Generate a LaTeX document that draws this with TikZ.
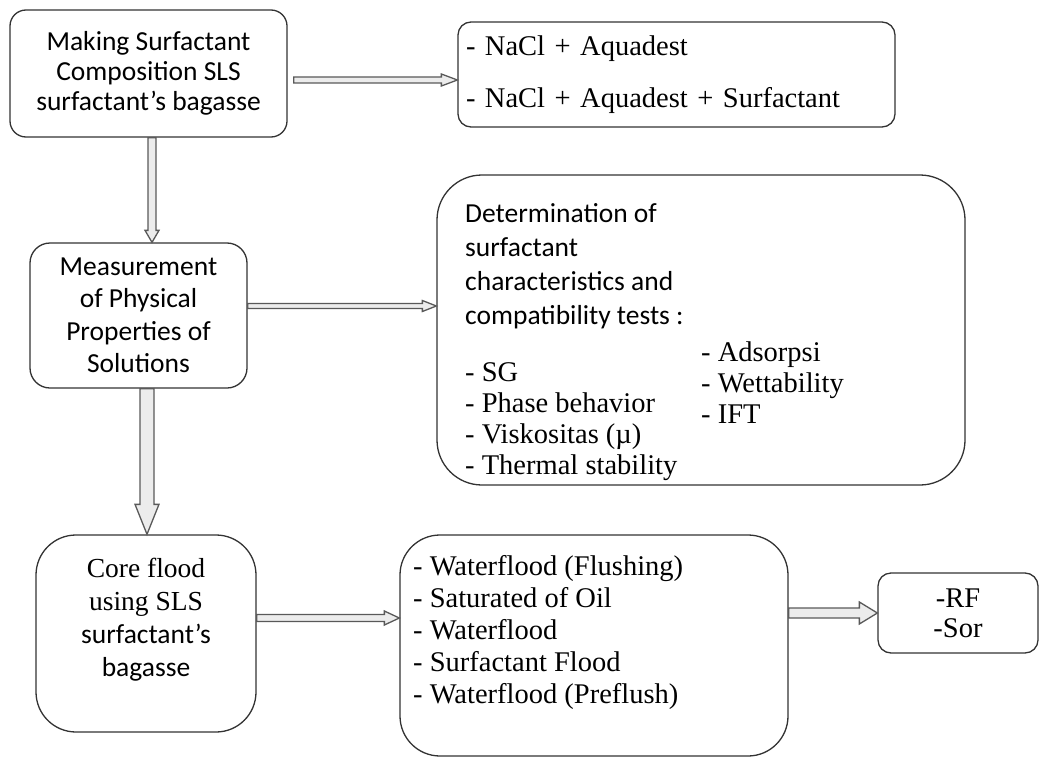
\documentclass[tikz,border=0pt]{standalone}
\usepackage{fontspec}
\setmainfont{Liberation Serif}
\newfontfamily\calibri{Carlito}
\usetikzlibrary{calc,positioning}

\begin{document}
\begin{tikzpicture}[
    x=1pt, y=-1pt,
    %---- boxes and texts ----
    box/.style = {draw=black!80, line width=1.3pt, fill=white, inner sep=0pt},
    calibritext/.style = {font=\calibri\fontsize{27.5}{30}\selectfont, align=center},
    listtext/.style = {font=\fontsize{28.5}{31}\selectfont, align=left, inner sep=0pt},
    %---- hollow block arrow: {half shaft}{half head}{head length} ----
    blockarrow/.style n args={3}{draw=black!65, line width=1.3pt, fill=gray!15, line join=miter,
        to path={($(\tikztotarget)!#3!(\tikztostart)$) coordinate (hb)
          ($(\tikztostart)!#1!90:(\tikztotarget)$) -- ($(hb)!#1!-90:(\tikztostart)$)
          -- ($(hb)!#2!-90:(\tikztostart)$) -- (\tikztotarget)
          -- ($(hb)!#2!90:(\tikztostart)$) -- ($(hb)!#1!90:(\tikztostart)$)
          -- ($(\tikztostart)!#1!-90:(\tikztotarget)$) -- cycle}},
]
\useasboundingbox (0,0) rectangle (1040,757);

%---- left column ----
\node (making)  [box, calibritext, rounded corners=16pt, minimum width=277pt, minimum height=127pt]
    at (148.5,73.5) {Making Surfactant\\Composition SLS\\surfactant’s bagasse};

\node (measure) [box, calibritext, font=\calibri\fontsize{27.5}{32.5}\selectfont,
    rounded corners=20pt, minimum width=217pt, minimum height=145pt]
    at (138.5,315.5) {Measurement\\of Physical\\Properties of\\Solutions};

\node (core)    [box, rounded corners=40pt, minimum width=220pt, minimum height=197pt] at (146,633.5) {};
\node (coretext) [calibritext, font=\calibri\fontsize{27.5}{33}\selectfont, anchor=north, inner sep=0pt]
    at (146,558) {{\rmfamily Core flood}\\{\rmfamily using SLS}\\surfactant’s\\bagasse};

%---- right column ----
\node (nacl)    [box, listtext, rounded corners=13pt, minimum width=437pt, minimum height=105pt,
    text width=421pt, inner xsep=8pt]
    at (676.5,74.5) {- NaCl + Aquadest\\[21pt]- NaCl + Aquadest + Surfactant};

\node (determ)  [box, rounded corners=45pt, minimum width=528pt, minimum height=310pt] at (701,330) {};
\node (determhead) [calibritext, font=\calibri\fontsize{27.5}{34}\selectfont, align=left,
    anchor=north west, inner sep=0pt]
    at (465,203) {Determination of\\surfactant\\characteristics and\\compatibility tests :};
\node (testsleft)  [listtext, anchor=north west] at (465,362)
    {- SG\\- Phase behavior\\- Viskositas (µ)\\- Thermal stability};
\node (testsright) [listtext, anchor=north west] at (701,342)
    {- Adsorpsi\\- Wettability\\- IFT};

\node (flood)   [box, rounded corners=40pt, minimum width=388pt, minimum height=221pt] at (594,645.5) {};
\node (floodsteps) [listtext, font=\fontsize{28.5}{32}\selectfont, anchor=north west] at (413,555)
    {- Waterflood (Flushing)\\- Saturated of Oil\\- Waterflood\\- Surfactant Flood\\- Waterflood (Preflush)};

\node (result)  [box, listtext, font=\fontsize{28.5}{30}\selectfont, align=center, rounded corners=13pt,
    minimum width=160pt, minimum height=80pt] at (958,613) {-RF\\-Sor};

%---- arrows ----
\foreach \a/\ax/\ay/\b/\bx/\by/\w/\h/\l in {
  making.east/6pt/-6.5pt/nacl.west/0pt/-5.5pt/3pt/6pt/16pt,
  making.south/3.5pt/0pt/measure.north/13.5pt/0pt/4pt/7pt/12pt,
  measure.east/0pt/9.5pt/determ.west/0pt/24pt/2.5pt/5.5pt/14pt,
  measure.south/8.5pt/0pt/core.north/1pt/0pt/7pt/12pt/30pt,
  core.east/0pt/15.5pt/flood.west/0pt/27.5pt/3.5pt/7pt/15pt,
  flood.east/0pt/32.5pt/result.west/0pt/0pt/5pt/11pt/18pt}
  \draw[blockarrow={\w}{\h}{\l}] ([xshift=\ax,yshift=\ay]\a) to ([xshift=\bx,yshift=\by]\b);
\end{tikzpicture}
\end{document}
